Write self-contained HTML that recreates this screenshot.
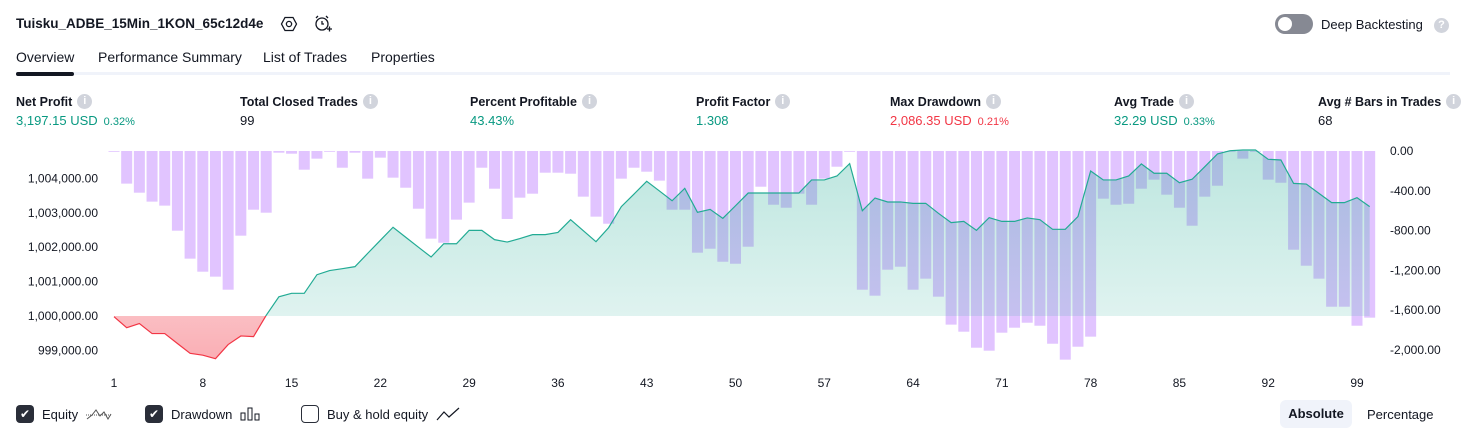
<!DOCTYPE html>
<html><head><meta charset="utf-8">
<style>
*{box-sizing:border-box;margin:0;padding:0}
body{width:1466px;height:438px;overflow:hidden;background:#fff;font-family:"Liberation Sans",sans-serif;color:#131722;position:relative}
.abs{position:absolute;white-space:nowrap}
.lbl{font-size:12.5px;font-weight:bold;color:#131722;display:flex;align-items:center;gap:5px}
.info{display:inline-block;width:15px;height:15px;border-radius:50%;background:#d1d4dc;color:#fff;font-size:11px;text-align:center;line-height:15px;font-weight:bold}
.val{font-size:13px}
.pct{font-size:11px;margin-left:6px}
.g{color:#089981}.r{color:#f23645}
.tab{font-size:14px;top:49px}
.cb{width:18px;height:18px;border-radius:4px;display:inline-block;vertical-align:middle}
</style></head><body>
<div class="abs" style="left:16px;top:16px;font-size:13.5px;font-weight:bold">Tuisku_ADBE_15Min_1KON_65c12d4e</div>
<svg class="abs" style="left:280px;top:15px" width="18" height="18" viewBox="0 0 18 18"><polygon points="5,2.5 13,2.5 16.5,9 13,15.5 5,15.5 1.5,9" fill="none" stroke="#131722" stroke-width="1.3"/><circle cx="9" cy="9" r="2.6" fill="none" stroke="#131722" stroke-width="1.3"/></svg>
<svg class="abs" style="left:313px;top:14px" width="20" height="20" viewBox="0 0 20 20"><circle cx="9" cy="10" r="6" fill="none" stroke="#131722" stroke-width="1.3"/><path d="M9 7v3h2M3 4l2-2M15 4l-2-2M14 15h5M16.5 12.5v5" fill="none" stroke="#131722" stroke-width="1.3"/></svg>
<div class="abs" style="left:1275px;top:14px;width:38px;height:20px;border-radius:10px;background:#868993"><div style="position:absolute;left:3px;top:3px;width:14px;height:14px;border-radius:50%;background:#fff"></div></div>
<div class="abs" style="left:1321px;top:17px;font-size:13px">Deep Backtesting</div>
<div class="abs info" style="left:1434px;top:18px;background:#d1d4dc">?</div>

<div class="abs tab" style="left:16px">Overview</div>
<div class="abs tab" style="left:98px">Performance Summary</div>
<div class="abs tab" style="left:263px">List of Trades</div>
<div class="abs tab" style="left:371px">Properties</div>
<div class="abs" style="left:16px;top:72px;width:1434px;height:3px;background:#f0f3fa"></div>
<div class="abs" style="left:16px;top:72px;width:58px;height:4px;border-radius:2px;background:#131722"></div>

<div class="abs" style="left:16px;top:94px"><div class="lbl">Net Profit <span class="info">i</span></div><div class="val g" style="margin-top:4px">3,197.15 USD<span class="pct">0.32%</span></div></div>
<div class="abs" style="left:240px;top:94px"><div class="lbl">Total Closed Trades <span class="info">i</span></div><div class="val" style="margin-top:4px">99</div></div>
<div class="abs" style="left:470px;top:94px"><div class="lbl">Percent Profitable <span class="info">i</span></div><div class="val g" style="margin-top:4px">43.43%</div></div>
<div class="abs" style="left:696px;top:94px"><div class="lbl">Profit Factor <span class="info">i</span></div><div class="val g" style="margin-top:4px">1.308</div></div>
<div class="abs" style="left:890px;top:94px"><div class="lbl">Max Drawdown <span class="info">i</span></div><div class="val r" style="margin-top:4px">2,086.35 USD<span class="pct">0.21%</span></div></div>
<div class="abs" style="left:1114px;top:94px"><div class="lbl">Avg Trade <span class="info">i</span></div><div class="val g" style="margin-top:4px">32.29 USD<span class="pct">0.33%</span></div></div>
<div class="abs" style="left:1318px;top:94px"><div class="lbl">Avg # Bars in Trades <span class="info">i</span></div><div class="val" style="margin-top:4px">68</div></div>

<svg id="chart" class="abs" style="left:0;top:140px" width="1466" height="255"></svg>

<div class="abs" style="left:16px;top:405px;font-size:13px;display:flex;align-items:center;gap:8px"><span class="cb" style="background:#2a2e39;color:#fff;font-size:12px;text-align:center;line-height:18px">✔</span>Equity <svg width="26" height="14"><polyline points="1,12 6,8 10,3 14,9 18,5 22,12 25,7" fill="none" stroke="#555" stroke-width="1"/><line x1="0" y1="8" x2="26" y2="8" stroke="#555" stroke-dasharray="1,1"/></svg></div>
<div class="abs" style="left:145px;top:405px;font-size:13px;display:flex;align-items:center;gap:8px"><span class="cb" style="background:#2a2e39;color:#fff;font-size:12px;text-align:center;line-height:18px">✔</span>Drawdown <svg width="20" height="14"><rect x="1" y="6" width="4" height="7" fill="none" stroke="#131722"/><rect x="8" y="1" width="4" height="12" fill="none" stroke="#131722"/><rect x="15" y="7" width="4" height="6" fill="none" stroke="#131722"/></svg></div>
<div class="abs" style="left:301px;top:405px;font-size:13px;display:flex;align-items:center;gap:8px"><span class="cb" style="border:1px solid #2a2e39"></span>Buy &amp; hold equity <svg width="24" height="14"><polyline points="1,13 8,5 13,10 23,1" fill="none" stroke="#131722" stroke-width="1.2"/></svg></div>
<div class="abs" style="left:1280px;top:400px;width:72px;height:28px;border-radius:6px;background:#f0f3fa;font-size:13px;font-weight:bold;text-align:center;line-height:28px">Absolute</div>
<div class="abs" style="left:1367px;top:407px;font-size:13px">Percentage</div>

<script>
const equity=[999980,999660,999780,999490,999490,999200,998915,998860,998760,999170,999420,999400,1000020,1000560,1000660,1000660,1001200,1001320,1001375,1001435,1001820,1002200,1002580,1002290,1002000,1001715,1002100,1002100,1002490,1002490,1002220,1002150,1002250,1002365,1002365,1002430,1002800,1002480,1002160,1002570,1003180,1003545,1003915,1003635,1003350,1003710,1003015,1003100,1002840,1003205,1003575,1003575,1003575,1003575,1003575,1003955,1003955,1004070,1004430,1003060,1003430,1003315,1003315,1003275,1003275,1002985,1002715,1002750,1002490,1002860,1002750,1002750,1002850,1002800,1002520,1002520,1002890,1004215,1003955,1003955,1004070,1004420,1004150,1004150,1003875,1003975,1004340,1004710,1004805,1004825,1004825,1004555,1004535,1003855,1003835,1003565,1003295,1003295,1003440,1003180];
const drawdown=[-5,-328,-419,-509,-549,-801,-1082,-1213,-1263,-1394,-851,-590,-620,-17,-27,-188,-77,-7,-168,-17,-278,-67,-268,-369,-580,-881,-922,-690,-519,-168,-379,-683,-469,-429,-218,-218,-228,-459,-660,-731,-278,-168,-208,-298,-590,-590,-1022,-982,-1113,-1133,-962,-359,-540,-570,-429,-540,-278,-158,-5,-1394,-1454,-1193,-1163,-1394,-1283,-1464,-1745,-1816,-1977,-2007,-1826,-1776,-1726,-1756,-1937,-2097,-1967,-1866,-479,-540,-530,-379,-288,-439,-570,-751,-459,-349,0,-77,0,-288,-319,-992,-1153,-1283,-1565,-1565,-1756,-1675];
const xTicks=[1,8,15,22,29,36,43,50,57,64,71,78,85,92,99];
const leftTicks=[999000,1000000,1001000,1002000,1003000,1004000];
const rightTicks=[0,-400,-800,-1200,-1600,-2000];

const svg=document.getElementById('chart');const NS='http://www.w3.org/2000/svg';
const OY=140;
const x=i=>114+(1357-114)/98*i;
const yL=v=>316-OY-(v-1000000)*0.0344;
const yR=v=>151-OY-v*0.0995;
function el(t,a,p){const e=document.createElementNS(NS,t);for(const k in a)e.setAttribute(k,a[k]);(p||svg).appendChild(e);return e;}
const defs=el('defs',{});
defs.innerHTML='<linearGradient id="gg" x1="0" y1="0" x2="0" y2="1"><stop offset="0" stop-color="rgba(34,171,148,0.3)"/><stop offset="1" stop-color="rgba(34,171,148,0.1)"/></linearGradient><linearGradient id="rg" x1="0" y1="0" x2="0" y2="1"><stop offset="0" stop-color="rgba(242,54,69,0.03)"/><stop offset="1" stop-color="rgba(242,54,69,0.4)"/></linearGradient><clipPath id="above"><rect x="0" y="0" width="1466" height="'+yL(1000000)+'"/></clipPath><clipPath id="below"><rect x="0" y="'+yL(1000000)+'" width="1466" height="200"/></clipPath>';
// bars
const bw=11;
drawdown.forEach((v,i)=>{const r=el('rect',{x:x(i)-bw/2,y:yR(0),width:bw,height:Math.max(0.8,yR(v)-yR(0)),fill:'#e1c4ff'});

});
// area
const pts=equity.map((v,i)=>x(i)+','+yL(v)).join(' ');
const base=yL(1000000);
const areaPts=x(0)+','+base+' '+pts+' '+x(equity.length-1)+','+base;
const a1=el('polygon',{points:areaPts,fill:'url(#gg)','clip-path':'url(#above)'});


const a2=el('polygon',{points:areaPts,fill:'url(#rg)','clip-path':'url(#below)'});


const l1=el('polyline',{points:pts,fill:'none',stroke:'#22ab94','stroke-width':1.2,'clip-path':'url(#above)'});


const l2=el('polyline',{points:pts,fill:'none',stroke:'#f23645','stroke-width':1.2,'clip-path':'url(#below)'});


// axes labels
leftTicks.forEach(v=>{const t=el('text',{x:98,y:yL(v)+4,'text-anchor':'end','font-size':12,fill:'#131722'});t.textContent=v.toLocaleString('en-US')+'.00';

});
rightTicks.forEach(v=>{const t=el('text',{x:1390,y:yR(v)+4,'font-size':12,fill:'#131722'});t.textContent=(v===0?'0':(v.toLocaleString('en-US')))+'.00';

});
xTicks.forEach(n=>{const t=el('text',{x:x(n-1),y:247,'text-anchor':'middle','font-size':12,fill:'#131722'});t.textContent=n;

});
</script>
</body></html>
